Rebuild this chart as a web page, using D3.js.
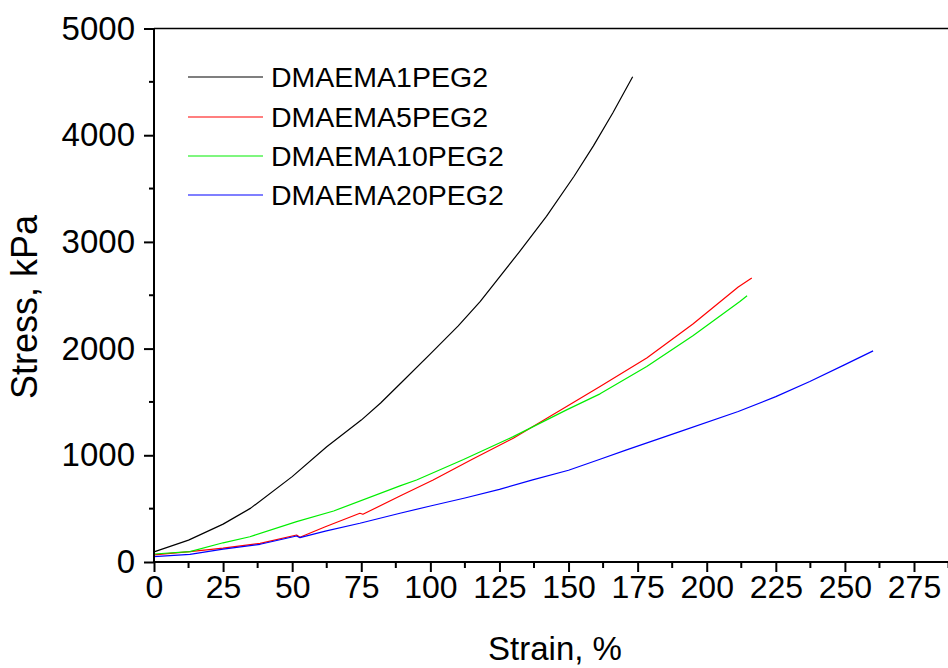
<!DOCTYPE html>
<html>
<head>
<meta charset="utf-8">
<script src="https://cdn.jsdelivr.net/npm/d3@7"></script>
<style>
  html, body { margin: 0; padding: 0; background: #fff; overflow: hidden; }
  svg { display: block; }
  text { font-family: "Liberation Sans", Arial, sans-serif; fill: #000; }
</style>
</head>
<body>
<svg id="chart" width="948" height="668"></svg>
<script>
// ---- Data ----
const seriesNames = ["DMAEMA1PEG2", "DMAEMA5PEG2", "DMAEMA10PEG2", "DMAEMA20PEG2"];
const seriesColors = ["#000000", "#ff0000", "#00ee00", "#0000ff"];

const strain1 = [0, 12.5, 25, 35, 50, 62.5, 75, 82, 91, 100, 110, 118, 132, 142, 152, 159, 166, 173.2];
const stress1 = [95, 205, 355, 505, 800, 1080, 1330, 1490, 1720, 1950, 2210, 2440, 2900, 3240, 3615, 3900, 4208, 4547];

const strain5 = [0, 13, 25, 38.4, 51.6, 52.8, 62, 74.5, 75.6, 89, 101, 115, 130, 149.3, 161.4, 178.3, 195, 211.4, 216.3];
const stress5 = [66, 97, 130, 175, 253, 232, 330, 457, 447, 619, 769, 960, 1160, 1458, 1645, 1911, 2230, 2577, 2661];

const strain10 = [0, 13, 25, 34.7, 51.6, 65, 89, 95, 112, 130, 149.3, 161.4, 178.3, 195, 212, 214.6];
const stress10 = [75, 97, 180, 237, 378, 478, 713, 769, 960, 1175, 1426, 1576, 1832, 2120, 2442, 2495];

const strain20 = [0, 13, 25, 38.4, 51.6, 52.8, 62, 74.5, 89, 100, 112.5, 125, 137, 150, 161.4, 171, 190, 211.4, 225, 237.3, 250, 260.2];
const stress20 = [50, 72, 120, 166, 244, 228, 290, 363, 457, 525, 600, 680, 769, 860, 963, 1051, 1220, 1410, 1550, 1692, 1850, 1979];

const xTicks = [0, 25, 50, 75, 100, 125, 150, 175, 200, 225, 250, 275];
const yTicks = [0, 1000, 2000, 3000, 4000, 5000];

const allStrain = [strain1, strain5, strain10, strain20];
const allStress = [stress1, stress5, stress10, stress20];

// ---- Layout ----
const svg = d3.select("#chart");
const plotLeft = 154, plotTop = 28.5, plotBottom = 562, xMaxDomain = 290;
const pxPerUnit = (914 - 154) / 275;
const plotRight = plotLeft + xMaxDomain * pxPerUnit;

const x = d3.scaleLinear().domain([0, xMaxDomain]).range([plotLeft, plotRight]);
const y = d3.scaleLinear().domain([0, 5000]).range([plotBottom, plotTop]);

// Lines
const line = d3.line().x(d => x(d[0])).y(d => y(d[1]));
const g = svg.append("g");
allStrain.forEach((xs, i) => {
  const pts = xs.map((v, k) => [v, allStress[i][k]]);
  g.append("path")
    .attr("d", line(pts))
    .attr("fill", "none")
    .attr("stroke", seriesColors[i])
    .attr("stroke-width", 1.2)
    .attr("stroke-linejoin", "round");
});

// Top border
svg.append("line")
  .attr("x1", plotLeft).attr("x2", 948).attr("y1", plotTop).attr("y2", plotTop)
  .attr("stroke", "#000").attr("stroke-width", 1.5);

// X axis
const xAxis = d3.axisBottom(x).tickValues(xTicks).tickSize(10).tickPadding(6).tickFormat(d3.format("d"));
const xg = svg.append("g").attr("transform", `translate(0,${plotBottom})`).call(xAxis);
xg.select(".domain").attr("stroke-width", 2).attr("d", `M${plotLeft},0H948`);
xg.selectAll(".tick line").attr("stroke-width", 2);
xg.selectAll(".tick text").style("font-size", "32px").attr("fill", "#000").attr("dy", "0.71em").attr("y", 13);
// X minor ticks
const xMinor = d3.range(12.5, 290, 25);
svg.append("g").selectAll("line").data(xMinor).join("line")
  .attr("x1", d => x(d)).attr("x2", d => x(d))
  .attr("y1", plotBottom).attr("y2", plotBottom + 6)
  .attr("stroke", "#000").attr("stroke-width", 2);

// Y axis
const yAxis = d3.axisLeft(y).tickValues(yTicks).tickSize(10).tickPadding(10).tickFormat(d3.format("d"));
const yg = svg.append("g").attr("transform", `translate(${plotLeft},0)`).call(yAxis);
yg.select(".domain").attr("stroke-width", 2).attr("d", `M0,${plotBottom}V${plotTop}`);
yg.selectAll(".tick line").attr("stroke-width", 2);
yg.selectAll(".tick text").style("font-size", "33px").attr("fill", "#000").attr("x", -19);
const yMinor = d3.range(500, 5000, 1000);
svg.append("g").selectAll("line").data(yMinor).join("line")
  .attr("x1", plotLeft - 5).attr("x2", plotLeft)
  .attr("y1", d => y(d)).attr("y2", d => y(d))
  .attr("stroke", "#000").attr("stroke-width", 2);

// Axis titles
svg.append("text")
  .attr("x", 555).attr("y", 660)
  .attr("text-anchor", "middle")
  .style("font-size", "33px")
  .text("Strain, %");
svg.append("text")
  .attr("transform", "translate(37,307) rotate(-90)")
  .attr("text-anchor", "middle")
  .style("font-size", "36px")
  .text("Stress, kPa");

// Legend
const legY = [77, 117, 156, 195];
const leg = svg.append("g");
seriesNames.forEach((name, i) => {
  leg.append("line")
    .attr("x1", 188).attr("x2", 263)
    .attr("y1", legY[i]).attr("y2", legY[i])
    .attr("stroke", seriesColors[i]).attr("stroke-width", 1.2);
  leg.append("text")
    .attr("x", 271).attr("y", legY[i])
    .attr("dy", "0.36em")
    .style("font-size", "28.5px")
    .text(name);
});
</script>
</body>
</html>
